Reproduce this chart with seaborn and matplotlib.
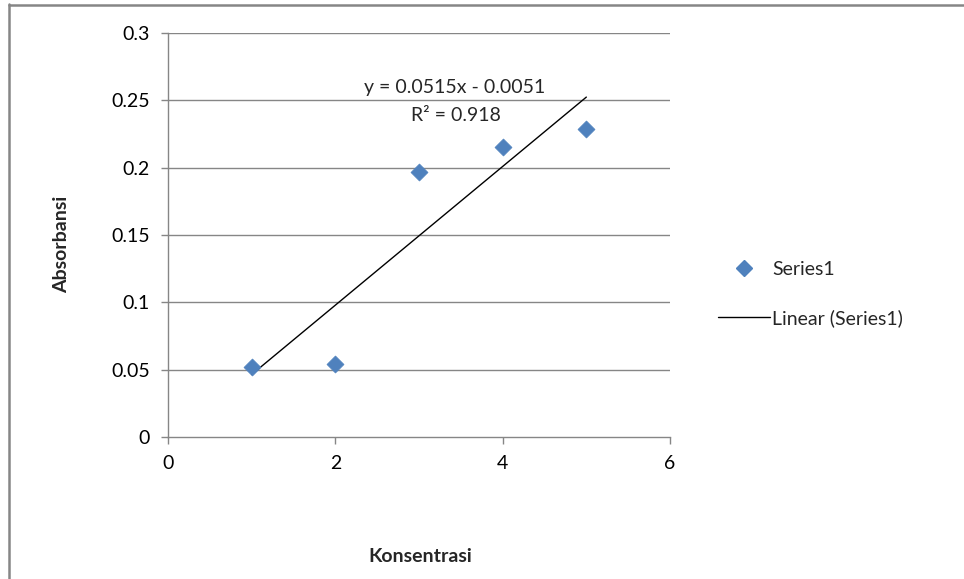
import numpy as np
import pandas as pd
import matplotlib
matplotlib.use("Agg")
import matplotlib.pyplot as plt
import seaborn as sns
from matplotlib.lines import Line2D

konsentrasi = [1, 2, 3, 4, 5]
absorbansi = [0.052, 0.054, 0.197, 0.215, 0.229]
x_ticks = [0, 2, 4, 6]
y_ticks = [0, 0.05, 0.1, 0.15, 0.2, 0.25, 0.3]
y_tick_labels = ["0", "0.05", "0.1", "0.15", "0.2", "0.25", "0.3"]
eq_text = "y = 0.0515x - 0.0051"
r2_text = "R² = 0.918"

sns.set_style("white")
plt.rcParams['font.family'] = ['Lato', 'DejaVu Sans']

df = pd.DataFrame({"Konsentrasi": konsentrasi, "Absorbansi": absorbansi})
slope, intercept = np.polyfit(konsentrasi, absorbansi, 1)
trend = pd.DataFrame({"x": [min(konsentrasi), max(konsentrasi)]})
trend["y"] = slope * trend["x"] + intercept

fs = 14
fig = plt.figure(figsize=(9.64, 5.79), dpi=100)
ax = fig.add_axes([168/964, 1-437/579, (670-168)/964, (437-33)/579])

grid_c = "#868686"
for v in y_ticks[1:]:
    ax.axhline(v, color=grid_c, lw=1.0, zorder=0)

sns.lineplot(data=trend, x="x", y="y", ax=ax, color="black", lw=1.0, zorder=2)
sns.scatterplot(data=df, x="Konsentrasi", y="Absorbansi", ax=ax, marker="D",
                s=75, color="#4F81BD", edgecolor="#4F81BD", linewidth=0.5, zorder=3)

ax.set_xlim(0, 6)
ax.set_ylim(0, 0.3)
ax.set_xticks(x_ticks)
ax.set_xticklabels([str(t) for t in x_ticks], fontsize=fs)
ax.set_yticks(y_ticks)
ax.set_yticklabels(y_tick_labels, fontsize=fs)
ax.tick_params(axis="both", direction="out", length=5, width=1, color=grid_c,
               pad=8, labelcolor="black")
ax.tick_params(axis="both", bottom=True, left=True)
for s in ["top", "right"]:
    ax.spines[s].set_visible(False)
for s in ["left", "bottom"]:
    ax.spines[s].set_color(grid_c)
    ax.spines[s].set_linewidth(1.0)

ax.set_xlabel("Konsentrasi", fontsize=fs, fontweight="bold")
ax.set_ylabel("Absorbansi", fontsize=fs, fontweight="bold")
ax.xaxis.set_label_coords((420-168)/502, (437-557)/404)
ax.yaxis.set_label_coords((62-168)/502, (437-244)/404)
ax.xaxis.label.set_va("center")
ax.yaxis.label.set_va("center")

ax.text(3.42, 0.2595, eq_text, fontsize=fs, ha="center", va="center")
ax.text(3.44, 0.2385, r2_text, fontsize=fs, ha="center", va="center")

handles = [Line2D([], [], marker="D", color="#4F81BD", linestyle="none", markersize=8.5),
           Line2D([], [], color="black", lw=1.0)]
fig.legend(handles, ["Series1", "Linear (Series1)"], loc="center left",
           bbox_to_anchor=(718/964, 1-294/579), frameon=False, fontsize=fs,
           borderpad=0, borderaxespad=0,
           handlelength=2.68, handletextpad=0.1, labelspacing=1.6)

# outer chart border (only left and top edges visible in the crop)
fig.add_artist(Line2D([9/964, 9/964], [0, 1-4/579], transform=fig.transFigure,
                      color="#868686", lw=1.8))
fig.add_artist(Line2D([9/964, 1], [1-5/579, 1-5/579], transform=fig.transFigure,
                      color="#868686", lw=1.8))

fig.savefig("out.png", dpi=100)
